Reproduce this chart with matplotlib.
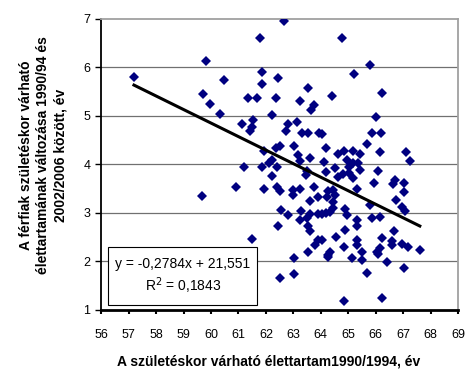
import matplotlib
matplotlib.use("Agg")
import matplotlib.pyplot as plt
from matplotlib.patches import Rectangle

plt.rcParams['font.family'] = ['Liberation Sans', 'DejaVu Sans']

# life expectancy at birth 1990/1994 (x) and change to 2002/2006 (y)
x = [57.19, 59.68, 59.70, 59.82, 59.96, 60.34, 60.47, 60.92, 61.21, 61.51,
     62.52, 61.14, 61.54, 61.48, 61.42, 61.36, 61.66, 61.78, 61.87, 61.87,
     62.38, 62.44, 62.67, 62.22, 62.81, 63.12, 62.73, 63.33, 63.54, 63.93,
     63.24, 63.55, 63.75, 63.64, 64.42, 64.78, 65.79, 65.22, 66.24, 66.03,
     63.03, 64.19, 61.93, 62.51, 62.37, 63.16, 63.24, 63.61, 62.21, 62.11,
     61.85, 62.39, 64.13, 64.19, 63.51, 63.46, 62.21, 61.94, 62.39, 62.51,
     63.00, 63.24, 62.97, 63.76, 63.91, 64.27, 63.61, 62.55, 63.28, 64.03,
     65.85, 66.18, 65.67, 64.64, 64.85, 65.16, 65.43, 66.16, 67.10, 67.25,
     64.94, 65.18, 65.37, 65.04, 65.43, 64.52, 64.82, 64.64, 65.18, 65.04,
     66.09, 65.95, 66.70, 66.62, 67.04, 67.04, 65.31, 64.45, 64.52, 64.21,
     64.45, 66.76, 66.95, 65.79, 64.88, 62.81, 63.61, 63.91, 64.19, 63.24,
     63.48, 62.45, 63.54, 63.61, 63.91, 63.79, 63.54, 64.27, 63.03, 63.03,
     64.45, 64.33, 64.94, 64.03, 65.85, 66.16, 65.31, 65.31, 67.07, 64.88,
     64.55, 64.03, 65.31, 65.31, 64.85, 66.24, 66.68, 66.60, 66.58, 66.95,
     67.19, 67.61, 65.49, 64.33, 64.27, 65.15, 65.51, 66.04, 66.16, 66.09,
     66.40, 65.67, 67.04, 64.84, 66.24]
y = [5.80, 3.35, 5.44, 6.13, 5.23, 5.03, 5.73, 3.54, 3.95, 2.47,
     1.66, 4.82, 4.91, 4.77, 4.69, 5.36, 5.36, 6.59, 5.89, 5.65,
     5.36, 5.77, 6.95, 5.01, 4.83, 4.86, 4.69, 4.65, 4.65, 4.64,
     5.31, 5.56, 5.22, 5.11, 5.40, 6.59, 6.05, 5.85, 5.47, 4.97,
     4.38, 4.33, 4.28, 4.38, 4.33, 4.18, 4.07, 4.12, 4.09, 4.03,
     3.95, 3.95, 4.04, 3.84, 3.86, 3.78, 3.76, 3.49, 3.54, 3.44,
     3.46, 3.49, 3.36, 3.54, 3.33, 3.44, 3.25, 3.06, 3.04, 4.62,
     4.65, 4.65, 4.42, 4.21, 4.28, 4.28, 4.21, 4.25, 4.25, 4.07,
     4.09, 4.02, 4.02, 3.94, 3.88, 3.92, 3.80, 3.74, 3.71, 3.81,
     3.87, 3.62, 3.68, 3.59, 3.62, 3.43, 3.50, 3.47, 3.37, 3.33,
     3.23, 3.27, 3.13, 3.16, 3.07, 2.96, 2.97, 2.97, 2.99, 2.85,
     2.89, 2.72, 2.72, 2.63, 2.44, 2.34, 2.19, 2.13, 2.08, 1.74,
     3.09, 3.01, 2.96, 2.97, 2.89, 2.92, 2.85, 2.72, 3.04, 2.65,
     2.51, 2.44, 2.44, 2.34, 2.30, 2.48, 2.63, 2.41, 2.33, 2.35,
     2.30, 2.24, 2.20, 2.20, 2.10, 2.08, 2.03, 2.20, 2.27, 2.15,
     1.98, 1.77, 1.86, 1.19, 1.24]

slope = -0.2784
intercept = 21.551
eq_line1 = "y = -0,2784x + 21,551"
eq_line2 = "R$^2$ = 0,1843"

xticks = list(range(56, 70))
yticks = list(range(1, 8))
xlabel = "A születéskor várható élettartam1990/1994, év"
ylabel = "A férfiak születéskor várható\nélettartamának változása 1990/94 és\n2002/2006 között, év"

fig = plt.figure(figsize=(4.68, 3.70), dpi=100)
ax = fig.add_axes([0.2165, 0.1622, 0.762, 0.7878])

for v in yticks[1:-1]:
    ax.axhline(v, color='#707070', lw=0.9, zorder=1)

ax.plot(x, y, 'D', color='#000080', markersize=5.3, markeredgewidth=0, zorder=3)

lx = [min(x), max(x)]
ly = [slope * v + intercept for v in lx]
ax.plot(lx, ly, color='black', lw=2.2, zorder=4)

ax.set_xlim(56, 69)
ax.set_ylim(1, 7)
ax.set_xticks(xticks)
ax.set_yticks(yticks)
ax.tick_params(axis='x', direction='out', length=3, width=1.5, labelsize=9, pad=11)
ax.tick_params(axis='y', direction='out', length=4, width=1.0, labelsize=9, pad=4)

ax.spines['left'].set_color('black')
ax.spines['left'].set_linewidth(1.3)
ax.spines['bottom'].set_color('black')
ax.spines['bottom'].set_linewidth(2.0)
ax.spines['top'].set_color('#a0a0a0')
ax.spines['top'].set_linewidth(1.3)
ax.spines['right'].set_color('#a0a0a0')
ax.spines['right'].set_linewidth(1.3)

fig.text(0.575, 0.022, xlabel, fontsize=10, fontweight='bold', ha='center', va='center')
fig.text(0.092, 0.58, ylabel, fontsize=10, fontweight='bold', ha='center', va='center',
         rotation=90, linespacing=1.3)

# regression equation box
ax.add_patch(Rectangle((0.019, 0.017), 0.418, 0.199, transform=ax.transAxes,
                       fc='white', ec='black', lw=0.8, zorder=5))
ax.text(0.228, 0.158, eq_line1, transform=ax.transAxes, fontsize=10,
        ha='center', va='center', zorder=6)
ax.text(0.23, 0.082, eq_line2, transform=ax.transAxes, fontsize=10,
        ha='center', va='center', zorder=6)

fig.savefig("out.png", dpi=100)
